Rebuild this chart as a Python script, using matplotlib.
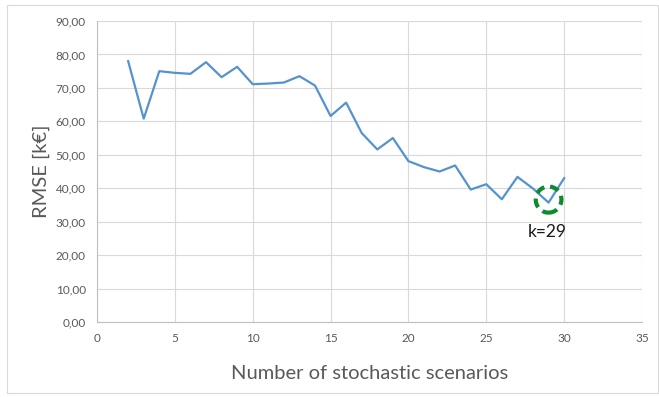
import matplotlib.pyplot as plt
from matplotlib.patches import Ellipse, Rectangle

# RMSE per number of stochastic scenarios
scenarios = list(range(2, 31))
rmse = [78.0, 60.8, 75.0, 74.5, 74.2, 77.7, 73.2, 76.3, 71.1, 71.3,
        71.6, 73.5, 70.7, 61.6, 65.6, 56.5, 51.6, 55.0, 48.1, 46.3,
        45.0, 46.8, 39.6, 41.2, 36.7, 43.4, 39.9, 35.7, 43.0]
best_k = 29
best_rmse = 36.6

x_ticks = list(range(0, 36, 5))
y_ticks = list(range(0, 91, 10))

LINE = "#5593cf"
GRID = "#d9d9d9"
TXT = "#595959"
GREEN = "#0f8a2e"

plt.rcParams['font.family'] = ['Lato', 'DejaVu Sans']

fig = plt.figure(figsize=(6.59, 3.97), dpi=100)
fig.patch.set_facecolor("white")

# chart frame
fig.add_artist(Rectangle((7 / 659, 4 / 397), 651 / 659, 388 / 397,
                         transform=fig.transFigure, fill=False,
                         edgecolor="#d9d9d9", linewidth=0.8))

ax = fig.add_axes([97 / 659, 1 - 322 / 397, 545 / 659, 301 / 397])
ax.plot(scenarios, rmse, color=LINE, linewidth=1.6, zorder=3)

ax.set_xlim(0, 35)
ax.set_ylim(0, 90)
ax.set_xticks(x_ticks)
ax.set_yticks(y_ticks)
ax.set_yticklabels([f"{v:.2f}".replace(".", ",") for v in y_ticks])
ax.grid(True, color=GRID, linewidth=0.8, zorder=0)
ax.tick_params(length=0, labelsize=8.5, colors=TXT, pad=8)
for side in ("top", "right"):
    ax.spines[side].set_visible(False)
for side in ("left", "bottom"):
    ax.spines[side].set_color("#bfbfbf")
    ax.spines[side].set_linewidth(0.8)

ax.set_xlabel("Number of stochastic scenarios", fontsize=14.5, color=TXT,
              labelpad=15)
ax.set_ylabel("RMSE [k€]", fontsize=14.5, color=TXT, labelpad=4)

# highlight the selected number of scenarios
ax.add_patch(Ellipse((best_k, best_rmse), 1.65, 7.8, fill=False,
                     edgecolor=GREEN, linewidth=3, linestyle=(0, (2.2, 1.4)),
                     zorder=4))
ax.text(best_k - 0.1, best_rmse - 9.7, f"k={best_k}", fontsize=12.5,
        color="#1a1a1a", ha="center", va="center")

fig.savefig("out.png", dpi=100)
